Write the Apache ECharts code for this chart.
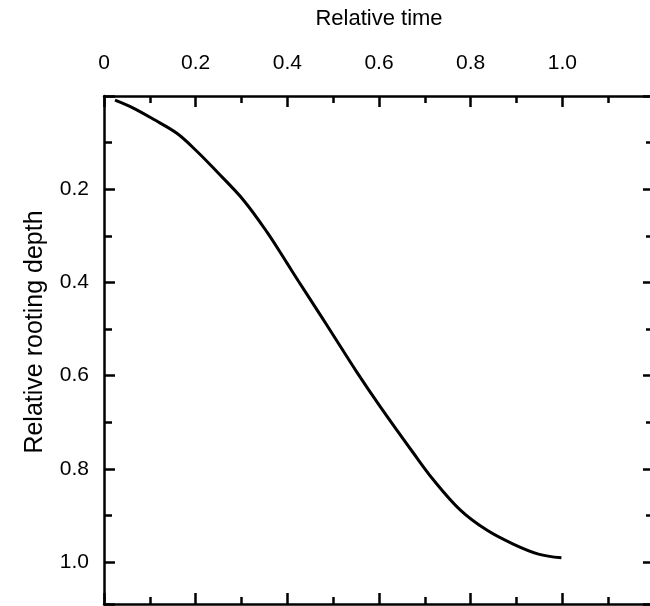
<!DOCTYPE html>
<html>
<head>
<meta charset="utf-8">
<style>
	html, body { margin: 0; padding: 0; background: #fff; }
	.chart { width: 650px; height: 606px; }
</style>
<script src="https://cdn.jsdelivr.net/npm/echarts@6/dist/echarts.min.js"></script>
</head>
<body>
<div class="chart"></div>
<script>
// 曲线数据
var timeX = [0.024, 0.064, 0.108, 0.159, 0.202, 0.246, 0.304, 0.355, 0.399, 0.424, 0.457, 0.493, 0.552, 0.603, 0.675, 0.719, 0.777, 0.836, 0.894, 0.948, 0.998];
var depthY = [0.009, 0.026, 0.050, 0.080, 0.118, 0.162, 0.223, 0.291, 0.358, 0.397, 0.447, 0.502, 0.593, 0.667, 0.766, 0.824, 0.888, 0.932, 0.962, 0.983, 0.991];
var xTickLabels = ['0', '0.2', '0.4', '0.6', '0.8', '1.0'];
var yTickLabels = ['0.2', '0.4', '0.6', '0.8', '1.0'];

(function () {
	var myChart = echarts.init(document.querySelector('.chart'));
	var font = "'Liberation Sans', Arial, sans-serif";
	var points = [];
	for (var i = 0; i < timeX.length; i++) {
		points.push([timeX[i], depthY[i]]);
	}
	function xLabel(v) {
		var s = v === 0 ? '0' : v.toFixed(1);
		return xTickLabels.indexOf(s) > -1 ? s : '';
	}
	function yLabel(v) {
		var s = v.toFixed(1);
		return yTickLabels.indexOf(s) > -1 ? s : '';
	}
	var lineStyle = { color: '#000', width: 2.5 };
	// 边框四条轴，刻度朝内
	function frameAxis(pos, extra) {
		var ax = {
			type: 'value',
			position: pos,
			min: 0,
			interval: 0.2,
			axisLine: { show: true, onZero: false, lineStyle: lineStyle },
			axisTick: { show: true, inside: true, length: 11, lineStyle: lineStyle },
			minorTick: { show: true, splitNumber: 2, length: 7, lineStyle: lineStyle },
			axisLabel: { show: false },
			splitLine: { show: false }
		};
		for (var k in extra) {
			ax[k] = extra[k];
		}
		return ax;
	}
	var option = {
		animation: false,
		grid: {
			left: 104,
			right: -4,
			top: 96,
			bottom: 2,
			containLabel: false,
			outerBoundsMode: 'none'
		},
		xAxis: [
			frameAxis('top', {
				max: 1.2,
				name: 'Relative time',
				nameLocation: 'middle',
				nameGap: 66,
				nameTextStyle: { color: '#000', fontSize: 22, fontFamily: font },
				axisLabel: { color: '#000', fontSize: 21, fontFamily: font, margin: 22, formatter: xLabel }
			}),
			frameAxis('bottom', { max: 1.2 })
		],
		yAxis: [
			frameAxis('left', {
				inverse: true,
				max: 1.09,
				name: 'Relative rooting depth',
				nameLocation: 'middle',
				nameGap: 56,
				nameRotate: 90,
				nameTextStyle: { color: '#000', fontSize: 25, fontFamily: font, padding: [0, 0, 0, 36] },
				minorTick: { show: true, splitNumber: 2, length: 8, lineStyle: lineStyle },
				axisLabel: { color: '#000', fontSize: 21, fontFamily: font, margin: 15, formatter: yLabel }
			}),
			frameAxis('right', {
				inverse: true,
				max: 1.09,
				minorTick: { show: true, splitNumber: 2, length: 8, lineStyle: lineStyle }
			})
		],
		series: [
			{
				name: 'depth',
				type: 'line',
				xAxisIndex: 0,
				yAxisIndex: 0,
				data: points,
				smooth: 0.35,
				showSymbol: false,
				symbol: 'none',
				lineStyle: { color: '#000', width: 3 }
			}
		]
	};
	myChart.setOption(option);
	window.addEventListener('resize', function () {
		myChart.resize();
	});
})();
</script>
</body>
</html>
